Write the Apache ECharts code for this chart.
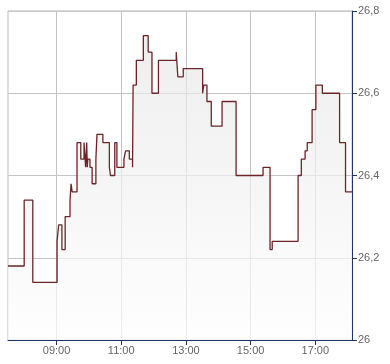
<!DOCTYPE html>
<html>
<head>
<meta charset="utf-8">
<script src="https://cdn.jsdelivr.net/npm/echarts@6/dist/echarts.min.js"></script>
<style>html,body{margin:0;padding:0;background:#fff}#c{width:390px;height:364px}</style>
</head>
<body>
<div id="c"></div>
<script>
const times = ["07:30","08:00","08:16","09:01","09:04","09:10","09:16","09:25","09:27","09:29","09:38","09:45","09:51","09:54","09:56","09:57","09:58","10:02","10:06","10:13","10:15","10:26","10:38","10:40","10:48","10:52","11:05","11:08","11:15","11:21","11:22","11:28","11:41","11:50","11:57","12:09","12:42","12:45","12:55","13:31","13:33","13:39","13:47","14:07","14:33","15:23","15:36","15:40","16:28","16:34","16:41","16:45","16:54","17:01","17:13","17:45","17:56","18:08"];
const values = [26.18,26.34,26.14,26.24,26.28,26.22,26.30,26.34,26.38,26.36,26.48,26.44,26.48,26.42,26.48,26.42,26.44,26.42,26.38,26.44,26.50,26.48,26.42,26.40,26.48,26.42,26.44,26.46,26.44,26.42,26.62,26.68,26.74,26.70,26.60,26.68,26.70,26.64,26.66,26.60,26.62,26.58,26.52,26.58,26.40,26.42,26.22,26.24,26.40,26.44,26.46,26.48,26.56,26.62,26.60,26.48,26.36,26.36];
const xTickLabels = ["09:00","11:00","13:00","15:00","17:00"];
const yTicks = [26, 26.2, 26.4, 26.6, 26.8];

const toMin = s => { const p = s.split(":"); return (+p[0]) * 60 + (+p[1]); };
const fmtMin = m => { const h = Math.floor(m / 60), mm = Math.round(m % 60); return (h < 10 ? "0" : "") + h + ":" + (mm < 10 ? "0" : "") + mm; };
const xTickVals = xTickLabels.map(toMin);
const data = times.map((t, i) => [toMin(t), values[i]]);
const navy = "#1c3566";

const chart = echarts.init(document.getElementById("c"), null, {renderer: "canvas"});
chart.setOption({
  animation: false,
  grid: {left: 8, right: 38, top: 11, bottom: 24, show: true, borderColor: "#bdbdbd", borderWidth: 1, backgroundColor: "transparent"},
  xAxis: {
    type: "value", min: toMin(times[0]), max: toMin(times[times.length - 1]),
    axisLine: {show: true, onZero: false, lineStyle: {color: navy, width: 1}},
    axisTick: {show: true, length: 5, customValues: xTickVals, lineStyle: {color: navy}},
    axisLabel: {customValues: xTickVals, formatter: v => fmtMin(v), color: "#666", fontSize: 11, fontFamily: "Liberation Sans, Arial, sans-serif", margin: 5},
    splitLine: {show: true, lineStyle: {color: "#c4c4c4", width: 1}}
  },
  yAxis: {
    type: "value", position: "right", min: yTicks[0], max: yTicks[yTicks.length - 1], interval: 0.2,
    axisLine: {show: true, lineStyle: {color: navy, width: 1}},
    axisTick: {show: true, length: 5, lineStyle: {color: navy}},
    axisLabel: {formatter: v => String(Number(v.toFixed(1))).replace(".", ","), color: "#666", fontSize: 11, fontFamily: "Liberation Sans, Arial, sans-serif", margin: 6},
    splitLine: {show: true, lineStyle: {color: "#c4c4c4", width: 1}}
  },
  series: [{
    type: "line", step: "end", data: data, symbol: "none",
    lineStyle: {color: "#6b2428", width: 1.3},
    areaStyle: {origin: "start", color: new echarts.graphic.LinearGradient(0, 0, 0, 1, [{offset: 0, color: "#e6e6e6"}, {offset: 1, color: "#fdfdfd"}])}
  }]
});
</script>
</body>
</html>
